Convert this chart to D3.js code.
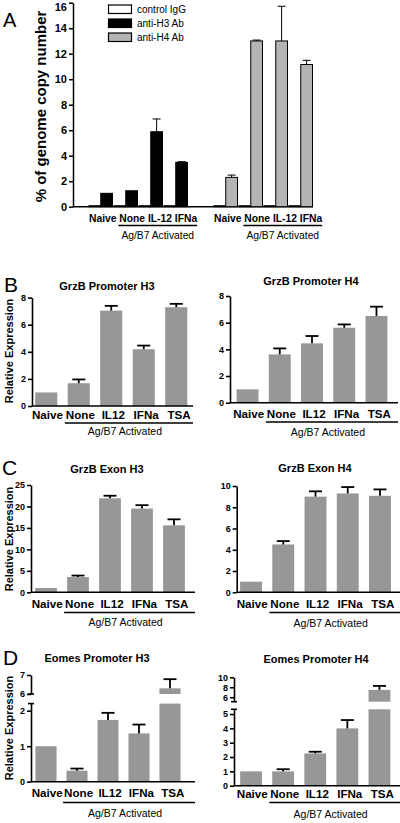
<!DOCTYPE html>
<html><head><meta charset="utf-8">
<script src="https://cdn.jsdelivr.net/npm/d3@7"></script>
<style>
body{margin:0;background:#fff}
svg{display:block}
text{font-family:"Liberation Sans",Arial,Helvetica,sans-serif;fill:#000}
</style>
</head><body>
<svg id="c" width="400" height="823"></svg>
<script>
// ---------------- DATA ----------------
// Panel A
const treatmentsA = ["Naive", "None", "IL-12", "IFNa"];
const legendA = ["control IgG", "anti-H3 Ab", "anti-H4 Ab"];
const h3ControlIgG = [0.08, 0.08, 0.08, 0.08];
const h3AntiH3 = [1.05, 1.25, 5.88, 3.48];
const h3AntiH3Err = [0, 0, 1.0, 0.05];
const h4ControlIgG = [0.08, 0.08, 0.08, 0.08];
const h4AntiH4 = [2.3, 13.0, 13.0, 11.15];
const h4AntiH4Err = [0.18, 0.07, 2.72, 0.33];
const ticksA = [0, 2, 4, 6, 8, 10, 12, 14, 16];
const yLabelA = "% of genome copy number";
const activatedLabel = "Ag/B7 Activated";

// Panels B-D
const conditions = ["Naive", "None", "IL12", "IFNa", "TSA"];
const grzbPromoterH3 = [1.0, 1.68, 7.04, 4.19, 7.29];
const grzbPromoterH3Err = [0, 0.28, 0.35, 0.27, 0.25];
const grzbPromoterH4 = [1.0, 3.62, 4.45, 5.62, 6.5];
const grzbPromoterH4Err = [0, 0.45, 0.55, 0.25, 0.7];
const grzbExonH3 = [1.0, 3.55, 21.9, 19.5, 15.6];
const grzbExonH3Err = [0, 0.35, 0.6, 0.8, 1.4];
const grzbExonH4 = [1.0, 4.5, 9.0, 9.3, 9.08];
const grzbExonH4Err = [0, 0.32, 0.5, 0.6, 0.6];
const eomesPromoterH3 = [1.0, 0.31, 1.74, 1.36, 6.3];
const eomesPromoterH3Err = [0, 0.06, 0.2, 0.25, 0.48];
const eomesPromoterH4 = [1.0, 1.0, 2.25, 4.0, 7.47];
const eomesPromoterH4Err = [0, 0.15, 0.12, 0.58, 0.8];
const ticks0to8 = [0, 2, 4, 6, 8];
const ticks0to25 = [0, 5, 10, 15, 20, 25];
const ticks0to10 = [0, 2, 4, 6, 8, 10];
const ticksEomesH3Low = [0, 1, 2];
const ticksEomesH3High = [6, 7];
const ticksEomesH4Low = [0, 1, 2, 3, 4, 5];
const ticksEomesH4High = [6, 8, 10];
const yLabel = "Relative Expression";

// ---------------- DRAWING ----------------
const svg = d3.select("#c");
const FONT = '"Liberation Sans", Arial, Helvetica, sans-serif';
const BAR = "#979797";

function styleAxis(g, fs, sw) {
  g.attr("font-family", null).attr("font-size", null);
  g.select(".domain").attr("stroke", "#000").attr("stroke-width", sw);
  g.selectAll(".tick line").attr("stroke", "#000").attr("stroke-width", sw);
  g.selectAll(".tick text").attr("font-size", fs).attr("font-weight", "bold")
    .attr("font-family", FONT).attr("fill", "#000");
}
function leftAxis(x, scale, ticks, fs, sw) {
  const g = svg.append("g").attr("transform", `translate(${x},0)`);
  g.call(d3.axisLeft(scale).tickValues(ticks).tickSize(4).tickSizeOuter(0)
    .tickPadding(2).tickFormat(d3.format("d")));
  styleAxis(g, fs, sw);
  return g;
}
function errBar(cx, yTop, yErr, cap, sw) {
  svg.append("line").attr("x1", cx).attr("x2", cx).attr("y1", yTop).attr("y2", yErr)
    .attr("stroke", "#000").attr("stroke-width", sw);
  svg.append("line").attr("x1", cx - cap / 2).attr("x2", cx + cap / 2).attr("y1", yErr).attr("y2", yErr)
    .attr("stroke", "#000").attr("stroke-width", sw);
}
function txt(x, y, s, fs, opts = {}) {
  const t = svg.append("text").attr("x", x).attr("y", y).text(s)
    .attr("font-size", fs).attr("font-family", FONT)
    .attr("font-weight", opts.bold ? "bold" : "normal")
    .attr("text-anchor", opts.anchor || "middle");
  if (opts.rotate) t.attr("transform", `rotate(-90,${x},${y})`);
  return t;
}

// ---- Panel A ----
txt(3, 27, "A", 20, { anchor: "start" });
const yA = d3.scaleLinear().domain([0, 16]).range([206.7, 2.7]);
const axA = leftAxis(73, yA, ticksA, 11, 1.5);
axA.selectAll(".tick text").filter(d => d === 16).attr("dy", "0.7em");
svg.append("line").attr("x1", 73).attr("x2", 313).attr("y1", yA(0)).attr("y2", yA(0))
  .attr("stroke", "#000").attr("stroke-width", 1.6);
txt(46, 106.5, yLabelA, 15, { bold: true, rotate: true });

const groupsA = [
  { ctrl: h3ControlIgG, anti: h3AntiH3, err: h3AntiH3Err, fill: "#000", range: [87.5, 187.5] },
  { ctrl: h4ControlIgG, anti: h4AntiH4, err: h4AntiH4Err, fill: "#b4b4b4", range: [212.5, 312.5] }
];
groupsA.forEach(gr => {
  const x = d3.scaleBand().domain(treatmentsA).range(gr.range);
  const sub = d3.scaleBand().domain(["ctrl", "anti"]).range([1.5, 25]);
  treatmentsA.forEach((t, i) => {
    const vc = gr.ctrl[i], va = gr.anti[i];
    svg.append("rect").attr("x", x(t) + sub("ctrl")).attr("width", sub.bandwidth())
      .attr("y", yA(vc)).attr("height", yA(0) - yA(vc))
      .attr("fill", "#fff").attr("stroke", "#000").attr("stroke-width", 1);
    svg.append("rect").attr("x", x(t) + sub("anti")).attr("width", sub.bandwidth())
      .attr("y", yA(va)).attr("height", yA(0) - yA(va))
      .attr("fill", gr.fill).attr("stroke", "#000").attr("stroke-width", 1);
    if (gr.err[i] > 0) {
      errBar(x(t) + sub("anti") + sub.bandwidth() / 2, yA(va), yA(va + gr.err[i]), 8, 1);
    }
  });
  const lab = txt(gr.range[0] + 1.5, 222, treatmentsA.join(" "), 10.3, { bold: true, anchor: "start" });
  const node = lab.node();
  const s = treatmentsA.join(" ");
  const i0 = s.indexOf(treatmentsA[1]);
  const xs = node.getStartPositionOfChar(i0).x - 1;
  const xe = node.getEndPositionOfChar(s.length - 1).x;
  svg.append("line").attr("x1", xs).attr("x2", xe).attr("y1", 225.5).attr("y2", 225.5)
    .attr("stroke", "#000").attr("stroke-width", 1.3);
  txt((xs + xe) / 2, 239, activatedLabel, 10.3);
});

// legend
const legendFill = ["#fff", "#000", "#b4b4b4"];
legendA.forEach((s, i) => {
  svg.append("rect").attr("x", 108.5).attr("y", 5 + i * 14).attr("width", 23).attr("height", 8.5)
    .attr("fill", legendFill[i]).attr("stroke", "#000").attr("stroke-width", 1.2);
  txt(137, 13 + i * 14, s, 10, { anchor: "start" });
});

// ---- Simple panels B, C ----
function simplePanel(p) {
  const y = d3.scaleLinear().domain(p.domain).range(p.yRange);
  const x = d3.scaleBand().domain(conditions).range(p.xRange).paddingInner(0.32).paddingOuter(0.16);
  p.values.forEach((v, i) => {
    const c = conditions[i];
    svg.append("rect").attr("x", x(c)).attr("width", x.bandwidth())
      .attr("y", y(v)).attr("height", y(0) - y(v)).attr("fill", BAR);
    if (p.errs[i] > 0) errBar(x(c) + x.bandwidth() / 2, y(v), y(v + p.errs[i]), 13, 1.8);
  });
  leftAxis(p.axisX, y, p.ticks, 9, 1.6);
  svg.append("line").attr("x1", p.axisX).attr("x2", p.axisEnd).attr("y1", y(0)).attr("y2", y(0))
    .attr("stroke", "#000").attr("stroke-width", 1.6);
  labelsAndTitle(p, x);
}
function labelsAndTitle(p, x) {
  const lx = d3.scaleBand().domain(conditions).range([p.xRange[0] + 1, p.xRange[1] + 3]);
  const labs = conditions.map(c =>
    txt(lx(c) + lx.bandwidth() / 2, p.labelY, c, 11.6, { bold: true }));
  const b1 = labs[1].node().getBBox();
  const xs = b1.x - 1, xe = p.axisEnd;
  svg.append("line").attr("x1", xs).attr("x2", xe).attr("y1", p.lineY).attr("y2", p.lineY)
    .attr("stroke", "#000").attr("stroke-width", 1.3);
  txt((xs + xe) / 2 - 4, p.agY, activatedLabel, 10.5);
  txt(p.titleX, p.titleY, p.title, 11, { bold: true });
  if (p.yLabelY) txt(13, p.yLabelY, yLabel, 11, { bold: true, rotate: true });
}

txt(4, 292, "B", 21, { anchor: "start" });
simplePanel({ domain: [0, 8], yRange: [406, 297.6], xRange: [30, 192.5], axisX: 32, axisEnd: 193,
  values: grzbPromoterH3, errs: grzbPromoterH3Err, ticks: ticks0to8,
  labelY: 419, lineY: 423, agY: 435, title: "GrzB Promoter H3", titleX: 107, titleY: 289.5, yLabelY: 351 });
simplePanel({ domain: [0, 8], yRange: [402.7, 296], xRange: [231.4, 392.6], axisX: 230, axisEnd: 398,
  values: grzbPromoterH4, errs: grzbPromoterH4Err, ticks: ticks0to8,
  labelY: 418, lineY: 422, agY: 436, title: "GrzB Promoter H4", titleX: 311, titleY: 285 });

txt(2, 475, "C", 21, { anchor: "start" });
simplePanel({ domain: [0, 25], yRange: [592.3, 485], xRange: [30, 190], axisX: 31, axisEnd: 195,
  values: grzbExonH3, errs: grzbExonH3Err, ticks: ticks0to25,
  labelY: 608, lineY: 612.5, agY: 626, title: "GrzB Exon H3", titleX: 107, titleY: 473, yLabelY: 539 });
simplePanel({ domain: [0, 10], yRange: [592.3, 486], xRange: [234.9, 396.1], axisX: 236.7, axisEnd: 400,
  values: grzbExonH4, errs: grzbExonH4Err, ticks: ticks0to10,
  labelY: 608, lineY: 612.5, agY: 627, title: "GrzB Exon H4", titleX: 315, titleY: 472 });

// ---- Broken-axis panels D ----
function brokenPanel(p) {
  const yL = d3.scaleLinear().domain(p.lowDomain).range(p.lowRange);
  const yU = d3.scaleLinear().domain(p.highDomain).range(p.highRange);
  const x = d3.scaleBand().domain(conditions).range(p.xRange).paddingInner(0.32).paddingOuter(0.16);
  const lowMax = p.lowDomain[1], highMin = p.highDomain[0];
  p.values.forEach((v, i) => {
    const c = conditions[i];
    const lv = Math.min(v, lowMax);
    svg.append("rect").attr("x", x(c)).attr("width", x.bandwidth())
      .attr("y", yL(lv)).attr("height", yL(0) - yL(lv)).attr("fill", BAR);
    let top, errTop;
    if (v > highMin) {
      svg.append("rect").attr("x", x(c)).attr("width", x.bandwidth())
        .attr("y", yU(v)).attr("height", yU(highMin) - yU(v)).attr("fill", BAR);
      top = yU(v); errTop = yU(v + p.errs[i]);
    } else {
      top = yL(v); errTop = yL(v + p.errs[i]);
    }
    if (p.errs[i] > 0) errBar(x(c) + x.bandwidth() / 2, top, errTop, 13, 1.8);
  });
  leftAxis(p.axisX, yL, p.lowTicks, 9, 1.6);
  leftAxis(p.axisX, yU, p.highTicks, 9, 1.6);
  [yL(lowMax), yU(highMin)].forEach(yy => {
    svg.append("line").attr("x1", p.axisX - 3).attr("x2", p.axisX + 3).attr("y1", yy).attr("y2", yy)
      .attr("stroke", "#000").attr("stroke-width", 1.6);
  });
  svg.append("line").attr("x1", p.axisX).attr("x2", p.axisEnd).attr("y1", yL(0)).attr("y2", yL(0))
    .attr("stroke", "#000").attr("stroke-width", 1.6);
  labelsAndTitle(p, x);
}

txt(3, 665, "D", 21, { anchor: "start" });
brokenPanel({ lowDomain: [0, 2.2], lowRange: [781.7, 703.6], highDomain: [6, 7], highRange: [694, 675],
  xRange: [30.5, 185.5], axisX: 31, axisEnd: 195,
  values: eomesPromoterH3, errs: eomesPromoterH3Err, lowTicks: ticksEomesH3Low, highTicks: ticksEomesH3High,
  labelY: 797, lineY: 802.5, agY: 817, title: "Eomes Promoter H3", titleX: 97, titleY: 662, yLabelY: 728 });
brokenPanel({ lowDomain: [0, 5.33], lowRange: [785.7, 709.3], highDomain: [5.1, 10], highRange: [701.7, 677.3],
  xRange: [235, 395.5], axisX: 234, axisEnd: 400,
  values: eomesPromoterH4, errs: eomesPromoterH4Err, lowTicks: ticksEomesH4Low, highTicks: ticksEomesH4High,
  labelY: 798, lineY: 802.5, agY: 818, title: "Eomes Promoter H4", titleX: 316, titleY: 663 });
</script>
</body></html>
